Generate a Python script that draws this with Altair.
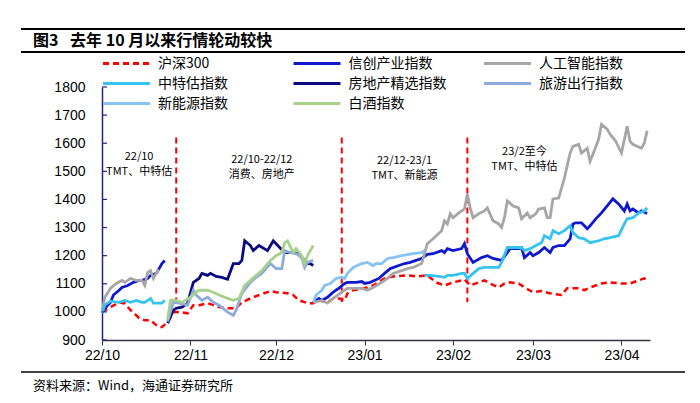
import altair as alt
import pandas as pd

# ---------------- data ----------------
series_names = ["沪深300", "信创产业指数", "人工智能指数", "中特估指数",
                "房地产精选指数", "旅游出行指数", "新能源指数", "白酒指数"]

hs300_dates = ["2022-10-01","2022-10-04","2022-10-07","2022-10-09","2022-10-11","2022-10-13","2022-10-14","2022-10-16",
               "2022-10-18","2022-10-20","2022-10-21","2022-10-22","2022-10-24","2022-10-26","2022-10-28","2022-10-31",
               "2022-11-02","2022-11-04","2022-11-07","2022-11-09","2022-11-11","2022-11-14","2022-11-17","2022-11-19",
               "2022-11-22","2022-11-25","2022-11-29",
               "2022-12-01","2022-12-05","2022-12-07","2022-12-09","2022-12-12","2022-12-14","2022-12-16","2022-12-19",
               "2022-12-21","2022-12-23","2022-12-25","2022-12-26","2022-12-28",
               "2023-01-01","2023-01-04","2023-01-08","2023-01-11","2023-01-16","2023-01-19","2023-01-23","2023-01-26",
               "2023-01-29",
               "2023-02-01","2023-02-04","2023-02-05","2023-02-07","2023-02-10","2023-02-12","2023-02-14","2023-02-17",
               "2023-02-19","2023-02-21","2023-02-24","2023-02-26",
               "2023-03-01","2023-03-04","2023-03-07","2023-03-11","2023-03-13","2023-03-17","2023-03-19","2023-03-21",
               "2023-03-25","2023-03-28",
               "2023-04-01","2023-04-04","2023-04-07","2023-04-09","2023-04-10"]
hs300_vals = [1000,1017,1034,1030,1006,988,978,970,970,953,946,946,964,999,1000,995,
              1024,1024,1031,1024,1017,1013,1013,1034,1048,1060,1074,
              1070,1066,1060,1041,1031,1031,1041,1034,1048,1048,1041,1066,1077,
              1084,1094,1119,1126,1130,1126,1130,1105,1094,
              1105,1112,1115,1094,1105,1112,1101,1087,1101,1105,1101,1087,
              1070,1074,1066,1060,1084,1084,1077,1087,1101,1105,
              1101,1101,1112,1119,1112]

xc1_dates = ["2022-10-01","2022-10-02","2022-10-04","2022-10-05","2022-10-07","2022-10-08","2022-10-10","2022-10-12",
             "2022-10-14","2022-10-15","2022-10-17","2022-10-18","2022-10-20","2022-10-21","2022-10-22","2022-10-23"]
xc1_vals = [1000,1013,1034,1060,1077,1087,1094,1105,1112,1112,1119,1130,1137,1154,1172,1183]

xc2_dates = ["2022-12-14","2022-12-16","2022-12-17","2022-12-19","2022-12-21","2022-12-23","2022-12-25","2022-12-26",
             "2022-12-29","2022-12-31",
             "2023-01-01","2023-01-03","2023-01-06","2023-01-08","2023-01-10","2023-01-13","2023-01-15","2023-01-17",
             "2023-01-19","2023-01-21","2023-01-23","2023-01-25","2023-01-28","2023-01-29","2023-01-30",
             "2023-02-01","2023-02-04","2023-02-05","2023-02-06","2023-02-08","2023-02-11","2023-02-13","2023-02-15",
             "2023-02-18","2023-02-20","2023-02-21","2023-02-24","2023-02-25","2023-02-26","2023-02-28",
             "2023-03-01","2023-03-03","2023-03-05","2023-03-07","2023-03-08","2023-03-10","2023-03-12","2023-03-14",
             "2023-03-15","2023-03-16","2023-03-18","2023-03-20","2023-03-21","2023-03-23","2023-03-25","2023-03-27",
             "2023-03-29","2023-03-31",
             "2023-04-02","2023-04-03","2023-04-04","2023-04-05","2023-04-07","2023-04-08","2023-04-10"]
xc2_vals = [1034,1048,1041,1052,1070,1084,1101,1105,1105,1108,
            1101,1105,1119,1137,1154,1165,1172,1176,1183,1190,1205,1207,1218,1211,1225,
            1218,1225,1243,1207,1176,1193,1200,1190,1183,1211,1225,1225,1229,1193,1211,
            1200,1211,1229,1211,1229,1236,1236,1260,1313,1317,1317,1296,1306,1331,1352,1377,1402,1384,
            1359,1384,1359,1366,1352,1359,1350]

ai1_dates = ["2022-10-01","2022-10-02","2022-10-04","2022-10-06","2022-10-08","2022-10-09","2022-10-11","2022-10-13",
             "2022-10-15","2022-10-16","2022-10-17","2022-10-18","2022-10-19","2022-10-20","2022-10-21"]
ai1_vals = [1000,1052,1084,1101,1112,1105,1119,1112,1112,1094,1140,1147,1119,1137,1150]

ai2_dates = ["2022-12-14","2022-12-17","2022-12-19","2022-12-21","2022-12-24","2022-12-26","2022-12-28","2022-12-31",
             "2023-01-02","2023-01-04","2023-01-07","2023-01-09","2023-01-11","2023-01-14","2023-01-16","2023-01-18",
             "2023-01-21","2023-01-22","2023-01-23","2023-01-25","2023-01-28","2023-01-29","2023-01-30","2023-01-31",
             "2023-02-01","2023-02-03","2023-02-04","2023-02-05","2023-02-06","2023-02-07","2023-02-08","2023-02-10",
             "2023-02-12","2023-02-13","2023-02-15","2023-02-17","2023-02-18","2023-02-19","2023-02-20","2023-02-22",
             "2023-02-24","2023-02-25","2023-02-27","2023-02-28",
             "2023-03-02","2023-03-03","2023-03-05","2023-03-06","2023-03-07","2023-03-08","2023-03-10","2023-03-12",
             "2023-03-14","2023-03-15","2023-03-17","2023-03-18","2023-03-20","2023-03-21","2023-03-22","2023-03-24",
             "2023-03-25","2023-03-27","2023-03-28","2023-03-30",
             "2023-04-01","2023-04-03","2023-04-04","2023-04-05","2023-04-08","2023-04-09","2023-04-10"]
ai2_vals = [1034,1041,1031,1048,1070,1084,1084,1084,
            1077,1087,1105,1119,1137,1147,1154,1158,1172,1207,1243,1260,1289,1324,1313,1349,
            1335,1352,1359,1366,1419,1370,1335,1349,1359,1370,1324,1313,1300,1335,1395,1377,1370,1331,1352,1335,
            1349,1366,1370,1335,1335,1402,1405,1476,1565,1589,1596,1565,1582,1536,1561,1614,1667,1650,1632,1607,
            1565,1660,1607,1596,1582,1600,1645]

zt1_dates = ["2022-10-01","2022-10-02","2022-10-04","2022-10-07","2022-10-09","2022-10-11","2022-10-13","2022-10-15",
             "2022-10-16","2022-10-18","2022-10-19","2022-10-21","2022-10-22","2022-10-23"]
zt1_vals = [995,1024,1038,1034,1041,1034,1041,1034,1034,1048,1031,1031,1031,1041]

zt2_dates = ["2023-01-22","2023-01-24","2023-01-27","2023-01-29","2023-01-30",
             "2023-02-01","2023-02-04","2023-02-05","2023-02-06","2023-02-08","2023-02-10","2023-02-12","2023-02-14",
             "2023-02-17","2023-02-18","2023-02-20","2023-02-22","2023-02-25","2023-02-26","2023-02-28",
             "2023-03-02","2023-03-04","2023-03-05","2023-03-07","2023-03-08","2023-03-10","2023-03-12","2023-03-14",
             "2023-03-15","2023-03-17","2023-03-19","2023-03-21","2023-03-24","2023-03-26","2023-03-28","2023-03-31",
             "2023-04-02","2023-04-03","2023-04-05","2023-04-07","2023-04-09","2023-04-10"]
zt2_vals = [1130,1130,1126,1123,1130,
            1130,1137,1137,1119,1137,1154,1158,1158,1158,1176,1229,1229,1229,1218,1225,
            1236,1246,1271,1260,1289,1278,1289,1306,1282,1264,1260,1246,1253,1260,1264,1271,
            1313,1331,1335,1352,1359,1370]

fdc_dates = ["2022-10-24","2022-10-26","2022-10-27","2022-10-29","2022-10-31",
             "2022-11-02","2022-11-04","2022-11-05","2022-11-07","2022-11-08","2022-11-10","2022-11-12","2022-11-14",
             "2022-11-16","2022-11-18","2022-11-19","2022-11-20","2022-11-22","2022-11-23","2022-11-25","2022-11-28",
             "2022-11-30",
             "2022-12-02","2022-12-04","2022-12-05","2022-12-07","2022-12-09","2022-12-10","2022-12-12","2022-12-13",
             "2022-12-14"]
fdc_vals = [960,1006,1013,1017,1031,
            1105,1119,1137,1130,1137,1126,1123,1116,1172,1172,1183,1253,1236,1218,1236,1218,1253,
            1232,1211,1211,1211,1207,1193,1172,1172,1165]

ly_dates = ["2022-10-24","2022-10-26","2022-10-28","2022-10-31",
            "2022-11-02","2022-11-03","2022-11-05","2022-11-07","2022-11-09","2022-11-11","2022-11-14","2022-11-16",
            "2022-11-17","2022-11-19","2022-11-22","2022-11-24","2022-11-26","2022-11-29",
            "2022-12-01","2022-12-03","2022-12-04","2022-12-06","2022-12-08","2022-12-10","2022-12-11","2022-12-12",
            "2022-12-14"]
ly_vals = [965,1034,1031,1024,
           1077,1060,1041,1052,1034,1024,999,988,1006,1066,1105,1123,1137,1172,
           1154,1154,1218,1211,1207,1193,1158,1176,1183]

xny_dates = ["2022-12-14","2022-12-15","2022-12-17","2022-12-18","2022-12-20","2022-12-22","2022-12-24","2022-12-25",
             "2022-12-26","2022-12-28","2022-12-31",
             "2023-01-02","2023-01-04","2023-01-05","2023-01-07","2023-01-09","2023-01-11","2023-01-14","2023-01-16",
             "2023-01-18","2023-01-21","2023-01-22"]
xny_vals = [1034,1060,1077,1094,1101,1119,1123,1119,1137,1158,1172,
            1176,1165,1172,1172,1190,1193,1200,1204,1207,1211,1218]

bj_dates = ["2022-10-24","2022-10-25","2022-10-27","2022-10-29",
            "2022-11-01","2022-11-03","2022-11-04","2022-11-07","2022-11-09","2022-11-11","2022-11-14","2022-11-16",
            "2022-11-18","2022-11-20","2022-11-22","2022-11-24","2022-11-26","2022-11-29",
            "2022-12-01","2022-12-03","2022-12-04","2022-12-05","2022-12-07","2022-12-08","2022-12-10","2022-12-11",
            "2022-12-12","2022-12-14"]
bj_vals = [975,1041,1041,1034,
           1052,1070,1077,1077,1070,1060,1048,1041,1048,1094,1112,1130,1147,1183,
           1200,1211,1246,1253,1211,1225,1200,1172,1200,1236]

divider_dates = ["2022-10-27", "2022-12-24", "2023-02-06"]
divider_top = [1620, 1620, 1620]
divider_bottom = [1035, 1035, 1035]

ann_texts = ["22/10", "TMT、中特估", "22/10-22/12", "消费、房地产",
             "22/12-23/1", "TMT、新能源", "23/2至今", "TMT、中特估"]
ann_dates = ["2022-10-14", "2022-10-14", "2022-11-26", "2022-11-26",
             "2023-01-15", "2023-01-15", "2023-02-26", "2023-02-26"]
ann_vals = [1550, 1497, 1539, 1486, 1536, 1483, 1568, 1514]

y_ticks = [900, 1000, 1100, 1200, 1300, 1400, 1500, 1600, 1700, 1800]
x_month_starts = [(2022, 10), (2022, 11), (2022, 12), (2023, 1), (2023, 2), (2023, 3), (2023, 4)]

title_text = "图3\u2002 去年 10 月以来行情轮动较快"
source_text = "资料来源：Wind，海通证券研究所"

# ---------------- styles ----------------
series_colors = ["#FF0000", "#1018CF", "#A6A6A6", "#35C3F0", "#0A0A80", "#8FAADC", "#86C2F2", "#A9D18E"]
series_dashes = [[6, 4], [1, 0], [1, 0], [1, 0], [1, 0], [1, 0], [1, 0], [1, 0]]
CJK = "Noto Sans CJK SC"
LAT = "Liberation Sans"
YAXIS_COL = "#22228A"
XAXIS_COL = "#333344"

# ---------------- build tables ----------------
rows = []
def add(name, seg, dates, vals):
    for d, v in zip(dates, vals):
        rows.append({"series": name, "seg": seg, "date": d, "value": v})

add("信创产业指数", 1, xc1_dates, xc1_vals)
add("信创产业指数", 2, xc2_dates, xc2_vals)
add("人工智能指数", 1, ai1_dates, ai1_vals)
add("人工智能指数", 2, ai2_dates, ai2_vals)
add("中特估指数", 1, zt1_dates, zt1_vals)
add("中特估指数", 2, zt2_dates, zt2_vals)
add("房地产精选指数", 1, fdc_dates, fdc_vals)
add("旅游出行指数", 1, ly_dates, ly_vals)
add("新能源指数", 1, xny_dates, xny_vals)
add("白酒指数", 1, bj_dates, bj_vals)
sectors = pd.DataFrame(rows)
hs = pd.DataFrame({"series": "沪深300", "date": hs300_dates, "value": hs300_vals})
div = pd.DataFrame({"date": divider_dates, "top": divider_top, "bottom": divider_bottom})
ann = pd.DataFrame({"t": ann_texts, "date": ann_dates, "value": ann_vals})
yt = pd.DataFrame({"v": y_ticks})

leg = pd.DataFrame({"series": series_names})
idx = list(range(len(series_names)))
leg["lx"] = [(i % 3) * 190.5 + 1 for i in idx]
leg["lx2"] = leg["lx"] + 47
leg["tx"] = leg["lx"] + 55
leg["ly"] = [-23.5 + (i // 3) * 20 for i in idx]

# ---------------- scales / encodings ----------------
color_scale = alt.Scale(domain=series_names, range=series_colors)
dash_scale = alt.Scale(domain=series_names, range=series_dashes)

x_scale = alt.Scale(type="utc",
                    domain=[alt.DateTime(year=2022, month=10, date=1, utc=True),
                            alt.DateTime(year=2023, month=4, date=11, utc=True)])
x_axis = alt.Axis(values=[alt.DateTime(year=y, month=m, date=1, utc=True) for y, m in x_month_starts],
                  format="%y/%m", title=None, grid=False, labelFont=LAT, labelFontSize=14,
                  labelColor="#000000", tickSize=5, tickColor=XAXIS_COL, domainColor=XAXIS_COL,
                  domainWidth=1.5, labelPadding=3, labelFlush=False)
y_scale = alt.Scale(domain=[900, 1800], nice=False, zero=False)
y_axis = alt.Axis(values=y_ticks, format="d", title=None, grid=False, labelFont=LAT, labelFontSize=14,
                  labelColor="#000000", ticks=False, tickSize=0, labelPadding=17,
                  domainColor=YAXIS_COL, domainWidth=1.5)

X = alt.X("date:T", scale=x_scale, axis=x_axis)
Y = alt.Y("value:Q", scale=y_scale, axis=y_axis)

layers = []

# period dividers
layers.append(alt.Chart(div).mark_rule(color="#FF0000", strokeWidth=2, strokeDash=[6, 4]).encode(
    x=X, y=alt.Y("top:Q", scale=y_scale, axis=y_axis), y2="bottom:Q"))

# HS300
layers.append(alt.Chart(hs).mark_line(strokeWidth=2.5, strokeDash=[6, 4]).encode(
    x=X, y=Y, color=alt.Color("series:N", scale=color_scale, legend=None)))

# sector lines, drawn in legend order
for name in series_names[1:]:
    layers.append(alt.Chart(sectors).transform_filter(alt.datum.series == name).mark_line(strokeWidth=2.8).encode(
        x=X, y=Y, detail="seg:N",
        color=alt.Color("series:N", scale=color_scale, legend=None)))

# inward y ticks
layers.append(alt.Chart(yt).mark_rule(color=YAXIS_COL, strokeWidth=1.2).encode(
    y=alt.Y("v:Q", scale=y_scale, axis=y_axis), x=alt.value(0), x2=alt.value(5)))

# annotations
layers.append(alt.Chart(ann).mark_text(font=CJK, fontSize=11, color="#000000", align="center",
                                       baseline="middle").encode(x=X, y=Y, text="t:N"))

# legend (manual)
layers.append(alt.Chart(leg).mark_rule(strokeWidth=3).encode(
    x=alt.X("lx:Q", scale=None, axis=None), x2="lx2:Q",
    y=alt.Y("ly:Q", scale=None, axis=None),
    color=alt.Color("series:N", scale=color_scale, legend=None),
    strokeDash=alt.StrokeDash("series:N", scale=dash_scale, legend=None)))
layers.append(alt.Chart(leg).mark_text(font=CJK, fontSize=14, color="#000000", align="left",
                                       baseline="middle").encode(
    x=alt.X("tx:Q", scale=None, axis=None), y=alt.Y("ly:Q", scale=None, axis=None), text="series:N"))

# title, rules, source
one = pd.DataFrame({"t": [title_text]})
layers.append(alt.Chart(one).mark_text(font=CJK, fontSize=16, fontWeight="bold", color="#000000",
                                       align="left", baseline="middle").encode(
    x=alt.value(-69), y=alt.value(-46), text="t:N"))
src = pd.DataFrame({"t": [source_text]})
layers.append(alt.Chart(src).mark_text(font=CJK, fontSize=13, color="#000000",
                                       align="left", baseline="middle").encode(
    x=alt.value(-69), y=alt.value(299), text="t:N"))
for yy, w in [(-58, 2), (-35, 2), (285, 1.5)]:
    layers.append(alt.Chart(one).mark_rule(color="#000000", strokeWidth=w).encode(
        x=alt.value(-81), x2=alt.value(583), y=alt.value(yy)))

chart = alt.layer(*layers).properties(
    width=548, height=253,
    padding={"left": 94, "top": 79, "right": 40, "bottom": 60},
    autosize=alt.AutoSizeParams(type="none"),
).configure_view(stroke=None)

chart.save("out.html", embed_options={"renderer": "svg", "actions": False})
